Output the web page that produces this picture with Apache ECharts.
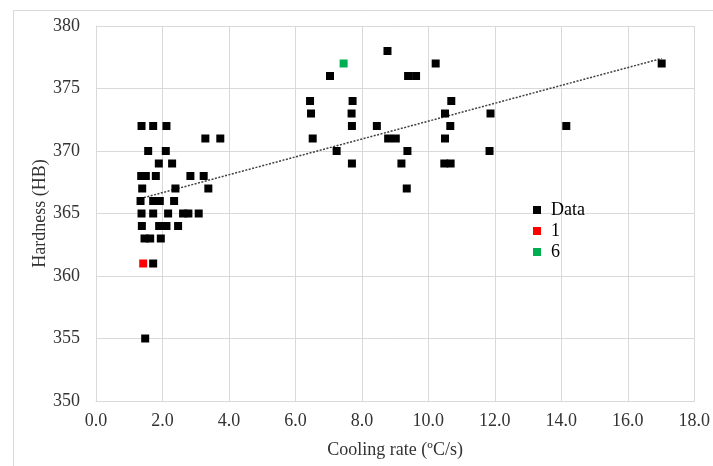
<!DOCTYPE html>
<html>
<head>
<meta charset="utf-8">
<script src="https://cdn.jsdelivr.net/npm/echarts@6/dist/echarts.min.js"></script>
<style>
  html, body { margin: 0; padding: 0; background: #fff; }
  #chart { width: 713px; height: 466px; }
</style>
</head>
<body>
<div id="chart"></div>
<script>
// ── Data ─────────────────────────────────────────────────────────────────────
const DATA_X = [
  1.37, 1.72, 2.12,
  3.29, 3.74,
  1.57, 2.10,
  1.89, 2.29,
  1.36, 1.50, 1.80, 2.84, 3.24,
  1.39, 2.39, 3.38,
  1.34, 1.72, 1.92, 2.35,
  1.37, 1.72, 2.17, 2.62, 2.78, 3.09,
  1.38, 1.90, 2.12, 2.47,
  1.46, 1.63, 1.95,
  1.72,
  1.48,
  8.77,
  10.22, 17.02,
  7.04, 9.39, 9.63,
  6.44, 7.72, 10.69,
  6.47, 7.69, 10.50, 11.87,
  7.70, 8.45, 10.66, 14.15,
  6.52, 8.79, 9.02, 10.50,
  7.24, 9.37, 11.84,
  7.70, 9.19, 10.48, 10.67,
  9.35
];
const DATA_Y = [
  372, 372, 372,
  371, 371,
  370, 370,
  369, 369,
  368, 368, 368, 368, 368,
  367, 367, 367,
  366, 366, 366, 366,
  365, 365, 365, 365, 365, 365,
  364, 364, 364, 364,
  363, 363, 363,
  361,
  355,
  378,
  377, 377,
  376, 376, 376,
  374, 374, 374,
  373, 373, 373, 373,
  372, 372, 372, 372,
  371, 371, 371, 371,
  370, 370, 370,
  369, 369, 369, 369,
  367
];
const S1_X = [1.42];
const S1_Y = [361];
const S6_X = [7.45];
const S6_Y = [377];

const X_TITLE = 'Cooling rate (ºC/s)';
const Y_TITLE = 'Hardness (HB)';

// ── Linear trend line (least squares over the Data series) ───────────────────
const n = DATA_X.length;
const mx = DATA_X.reduce((a, b) => a + b, 0) / n;
const my = DATA_Y.reduce((a, b) => a + b, 0) / n;
let sxy = 0, sxx = 0;
for (let i = 0; i < n; i++) {
  sxy += (DATA_X[i] - mx) * (DATA_Y[i] - my);
  sxx += (DATA_X[i] - mx) * (DATA_X[i] - mx);
}
const slope = sxy / sxx;
const icpt = my - slope * mx;
const xLo = Math.min(...DATA_X), xHi = Math.max(...DATA_X);
const trend = [[xLo, icpt + slope * xLo], [xHi, icpt + slope * xHi]];

const zip = (xs, ys) => xs.map((x, i) => [x, ys[i]]);

const FONT = 'Liberation Serif';
const TXT = '#333';
const GRID = '#d9d9d9';

const chart = echarts.init(document.getElementById('chart'));
chart.setOption({
  animation: false,
  backgroundColor: '#fff',
  graphic: [{
    type: 'rect',
    shape: { x: 13.5, y: 10.5, width: 720, height: 470 },
    style: { fill: 'none', stroke: '#d9d9d9', lineWidth: 1 },
    silent: true
  }],
  grid: { left: 96, right: 17, top: 26, bottom: 65 },
  legend: {
    orient: 'vertical',
    left: 528,
    top: 196,
    itemWidth: 8,
    itemHeight: 8,
    itemGap: 3,
    data: ['Data', '1', '6'],
    textStyle: { fontFamily: FONT, fontSize: 18, color: '#000', padding: [0, 0, 0, 5] }
  },
  xAxis: {
    type: 'value',
    min: 0, max: 18, interval: 2,
    name: X_TITLE,
    nameLocation: 'middle',
    nameGap: 40,
    nameTextStyle: { fontFamily: FONT, fontSize: 18, color: TXT },
    axisLine: { show: true, lineStyle: { color: GRID } },
    axisTick: { show: false },
    axisLabel: { fontFamily: FONT, fontSize: 18, color: TXT, margin: 11,
                 formatter: v => v.toFixed(1) },
    splitLine: { show: true, lineStyle: { color: GRID } }
  },
  yAxis: {
    type: 'value',
    min: 350, max: 380, interval: 5,
    name: Y_TITLE,
    nameLocation: 'middle',
    nameGap: 47,
    nameMoveOverlap: false,
    nameTextStyle: { fontFamily: FONT, fontSize: 18, color: TXT },
    axisLine: { show: true, lineStyle: { color: GRID } },
    axisTick: { show: false },
    axisLabel: { fontFamily: FONT, fontSize: 18, color: TXT, margin: 16 },
    splitLine: { show: true, lineStyle: { color: GRID } }
  },
  series: [
    {
      name: 'Data', type: 'scatter', symbol: 'rect', symbolSize: 8,
      itemStyle: { color: '#000', opacity: 1 }, data: zip(DATA_X, DATA_Y), z: 3
    },
    {
      name: '1', type: 'scatter', symbol: 'rect', symbolSize: 8,
      itemStyle: { color: '#ff0000', opacity: 1 }, data: zip(S1_X, S1_Y), z: 4
    },
    {
      name: '6', type: 'scatter', symbol: 'rect', symbolSize: 8,
      itemStyle: { color: '#00b050', opacity: 1 }, data: zip(S6_X, S6_Y), z: 4
    },
    {
      name: 'trend', type: 'line', data: trend, symbol: 'none',
      lineStyle: { color: '#404040', width: 1.5, type: [2, 1.5] }, z: 2,
      silent: true
    }
  ]
});
</script>
</body>
</html>
